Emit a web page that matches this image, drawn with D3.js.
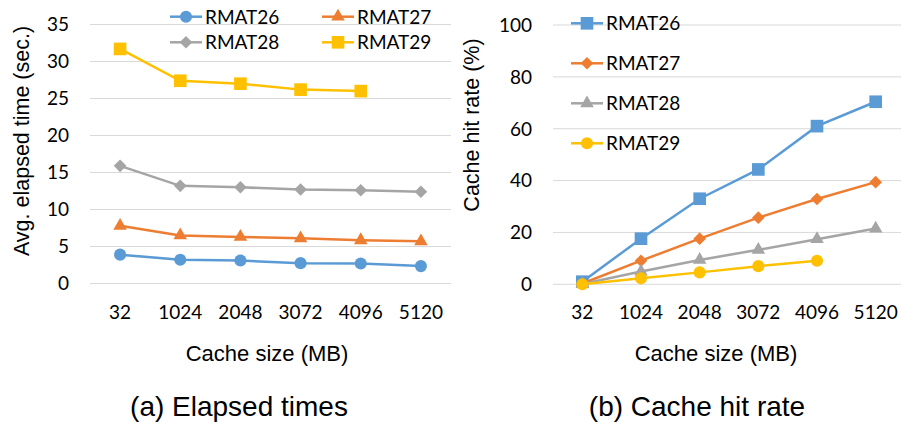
<!DOCTYPE html>
<html>
<head>
<meta charset="utf-8">
<script src="https://cdn.jsdelivr.net/npm/d3@7"></script>
<style>
  body { margin: 0; background: #fff; }
  .tick-label { font-family: Lato, "Open Sans", sans-serif; font-size: 19px; fill: #000; }
  .title { font-family: "Liberation Sans", Arial, sans-serif; fill: #000; }
</style>
</head>
<body>
<script>
// chart data
var cacheSizes = ["32", "1024", "2048", "3072", "4096", "5120"];
var seriesNames = ["RMAT26", "RMAT27", "RMAT28", "RMAT29"];

var elapsed26 = [3.9, 3.2, 3.1, 2.75, 2.7, 2.35];
var elapsed27 = [7.8, 6.5, 6.3, 6.1, 5.85, 5.7];
var elapsed28 = [15.9, 13.2, 13.0, 12.7, 12.6, 12.4];
var elapsed29 = [31.7, 27.4, 27.0, 26.2, 26.0, null];

var hit26 = [1.0, 17.6, 33.0, 44.3, 61.0, 70.4];
var hit27 = [0.3, 9.1, 17.6, 25.7, 32.9, 39.4];
var hit28 = [0.1, 4.9, 9.4, 13.3, 17.4, 21.5];
var hit29 = [0, 2.3, 4.6, 7.0, 9.1, null];

var elapsedTicks = [0, 5, 10, 15, 20, 25, 30, 35];
var hitTicks = [0, 20, 40, 60, 80, 100];

var colors = ["#5B9BD5", "#ED7D31", "#A5A5A5", "#FFC000"];

const width = 901, height = 423;

const svg = d3.select("body")
  .append("svg")
  .attr("width", width)
  .attr("height", height);

// marker shapes
function markerPath(kind) {
  if (kind == "circle") return d3.symbol().type(d3.symbolCircle).size(115)();
  if (kind == "square") return d3.symbol().type(d3.symbolSquare).size(160)();
  if (kind == "triangle") return d3.symbol().type(d3.symbolTriangle).size(80)();
  if (kind == "diamond") return d3.symbol().type(d3.symbolSquare).size(80)();
}

function drawPanel(opt) {
  var g = svg.append("g");

  var x = d3.scalePoint()
    .domain(cacheSizes)
    .range(opt.xRange)
    .padding(0.5);

  var y = d3.scaleLinear()
    .domain(opt.yDomain)
    .range(opt.yRange);

  // gridlines
  g.selectAll(".grid")
    .data(opt.ticks)
    .enter()
    .append("line")
    .attr("x1", opt.gridX[0])
    .attr("x2", opt.gridX[1])
    .attr("y1", function(d) { return y(d); })
    .attr("y2", function(d) { return y(d); })
    .attr("stroke", "#D9D9D9")
    .attr("stroke-width", 1);

  // y tick labels
  g.selectAll(".ytick")
    .data(opt.ticks)
    .enter()
    .append("text")
    .attr("class", "tick-label")
    .attr("x", opt.tickX)
    .attr("y", function(d) { return y(d); })
    .attr("dy", "0.36em")
    .attr("text-anchor", "end")
    .text(function(d) { return d; });

  // x tick labels
  g.selectAll(".xtick")
    .data(cacheSizes)
    .enter()
    .append("text")
    .attr("class", "tick-label")
    .attr("x", function(d) { return x(d); })
    .attr("y", 319)
    .attr("text-anchor", "middle")
    .text(function(d) { return d; });

  // axis titles
  g.append("text")
    .attr("class", "title")
    .attr("transform", "translate(" + opt.yTitlePos[0] + "," + opt.yTitlePos[1] + ") rotate(-90)")
    .attr("text-anchor", "middle")
    .attr("dy", "0.36em")
    .style("font-size", "21.5px")
    .text(opt.yTitle);

  g.append("text")
    .attr("class", "title")
    .attr("x", opt.xTitleX)
    .attr("y", 361)
    .attr("text-anchor", "middle")
    .style("font-size", "22px")
    .text("Cache size (MB)");

  g.append("text")
    .attr("class", "title")
    .attr("x", opt.captionX)
    .attr("y", 416)
    .attr("text-anchor", "middle")
    .style("font-size", "28px")
    .text(opt.caption);

  // lines and markers
  var line = d3.line()
    .defined(function(d) { return d != null; })
    .x(function(d, i) { return x(cacheSizes[i]); })
    .y(function(d) { return y(d); });

  opt.series.forEach(function(vals, k) {
    g.append("path")
      .attr("d", line(vals))
      .attr("fill", "none")
      .attr("stroke", colors[k])
      .attr("stroke-width", 2.5);

    g.selectAll(".m" + k)
      .data(vals.map(function(v, i) { return { v: v, i: i }; }).filter(function(d) { return d.v != null; }))
      .enter()
      .append("path")
      .attr("d", markerPath(opt.markers[k]))
      .attr("transform", function(d) {
        var t = "translate(" + x(cacheSizes[d.i]) + "," + y(d.v) + ")";
        if (opt.markers[k] == "diamond") t += " rotate(45)";
        return t;
      })
      .attr("fill", colors[k]);
  });

  // legend
  seriesNames.forEach(function(name, k) {
    var p = opt.legendPos[k];
    var lg = g.append("g").attr("transform", "translate(" + p[0] + "," + p[1] + ")");
    lg.append("line")
      .attr("x1", 0).attr("x2", 32)
      .attr("y1", 0).attr("y2", 0)
      .attr("stroke", colors[k])
      .attr("stroke-width", 2.5);
    lg.append("path")
      .attr("d", markerPath(opt.markers[k]))
      .attr("transform", "translate(16,0)" + (opt.markers[k] == "diamond" ? " rotate(45)" : ""))
      .attr("fill", colors[k]);
    lg.append("text")
      .attr("class", "tick-label")
      .attr("x", 35)
      .attr("y", 0)
      .attr("dy", "0.36em")
      .text(name);
  });
}

drawPanel({
  xRange: [90, 451],
  yDomain: [0, 35],
  yRange: [283.5, 24.5],
  ticks: elapsedTicks,
  gridX: [90, 451],
  tickX: 69,
  yTitle: "Avg. elapsed time (sec.)",
  yTitlePos: [21, 141],
  xTitleX: 267,
  caption: "(a) Elapsed times",
  captionX: 239,
  series: [elapsed26, elapsed27, elapsed28, elapsed29],
  markers: ["circle", "triangle", "diamond", "square"],
  legendPos: [[170, 16.7], [322, 16.7], [170, 42.3], [322, 42.3]]
});

drawPanel({
  xRange: [553, 905],
  yDomain: [0, 100],
  yRange: [284.3, 25],
  ticks: hitTicks,
  gridX: [553, 901],
  tickX: 532,
  yTitle: "Cache hit rate (%)",
  yTitlePos: [471, 125],
  xTitleX: 716,
  caption: "(b) Cache hit rate",
  captionX: 697,
  series: [hit26, hit27, hit28, hit29],
  markers: ["square", "diamond", "triangle", "circle"],
  legendPos: [[571, 23.3], [571, 63.3], [571, 103.3], [571, 143.3]]
});
</script>
</body>
</html>
